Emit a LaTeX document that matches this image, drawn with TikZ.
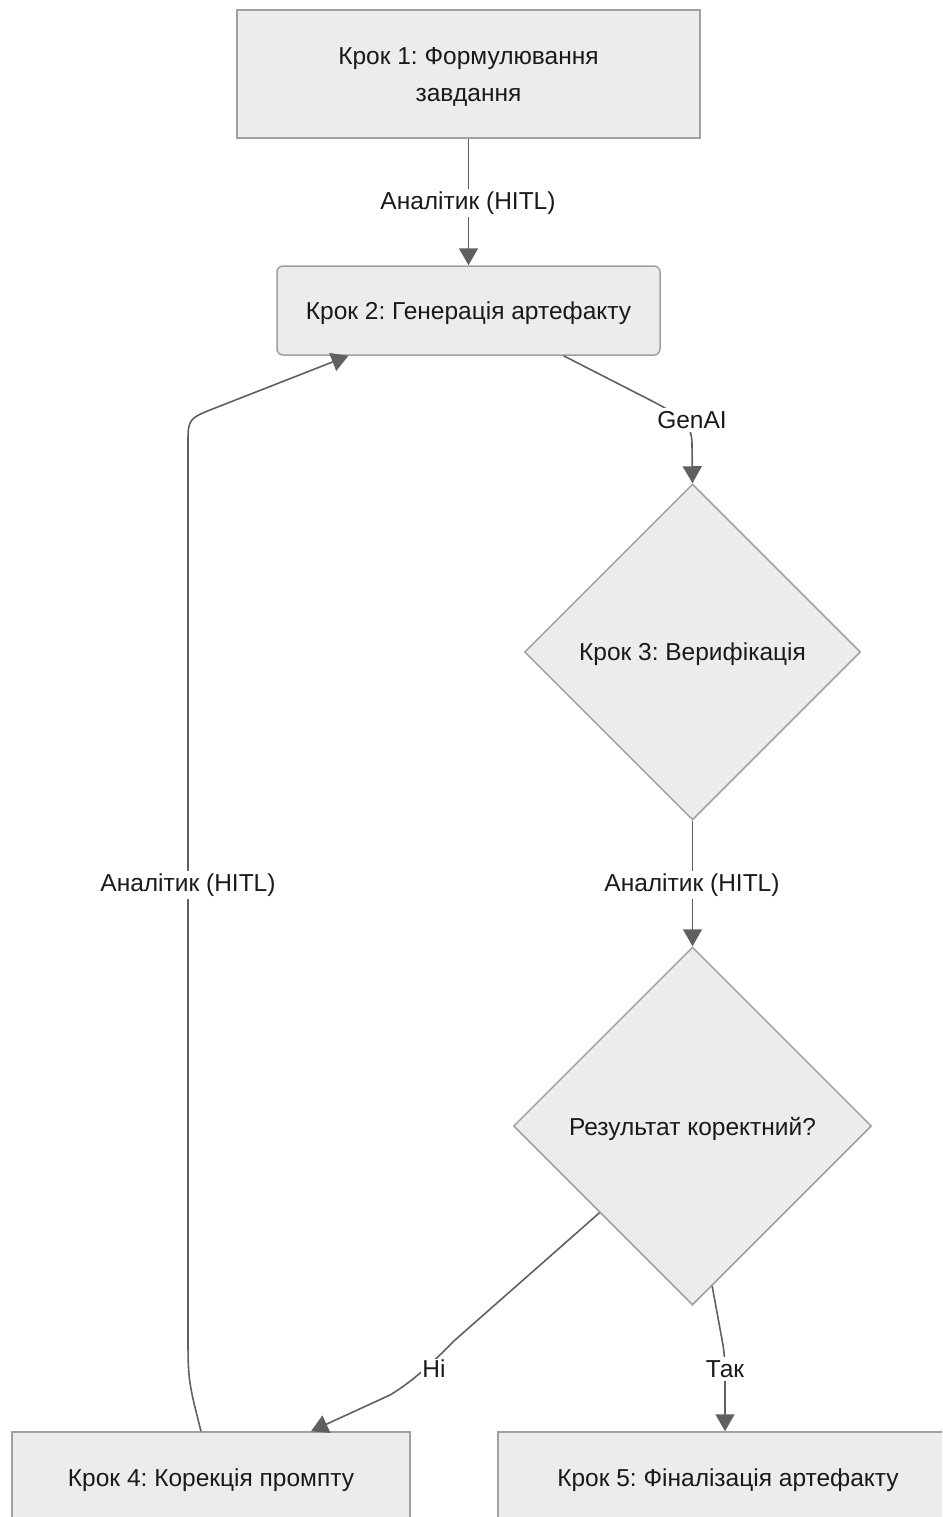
\documentclass[tikz,border=0pt]{standalone}
\usepackage{fontspec}
\setmainfont{Liberation Sans}
\usetikzlibrary{shapes.geometric,arrows.meta}
\definecolor{boxfill}{HTML}{ECECEC}
\definecolor{boxline}{HTML}{A0A0A0}
\definecolor{edgeline}{HTML}{777777}
\definecolor{tipfill}{HTML}{606060}
\definecolor{txt}{HTML}{1A1A1A}
\frenchspacing
% lower the printed text without changing the size the node sees
\newcommand{\lowertext}[2]{\raisebox{-#1}[\height][\depth]{#2}}
\begin{document}
\begin{tikzpicture}[x=1pt,y=-1pt,
  every node/.style={font=\fontsize{24.5}{39}\selectfont, text=txt},
  stepbox/.style={draw=boxline, fill=boxfill, line width=1.5pt, inner sep=0pt, align=center},
  decision/.style={diamond, draw=boxline, fill=boxfill, line width=1.5pt, inner sep=0pt, aspect=1},
  flow/.style={draw=edgeline, line width=1.6pt, -{Triangle[length=17pt,width=19pt,fill=tipfill]}, tipfill},
  elabel/.style={fill=white, inner sep=3pt}
]
\useasboundingbox (0,0) rectangle (942,1517);
\clip (0,0) rectangle (942,1517);

% process steps
\node[stepbox, minimum width=463, minimum height=128] (b1) at (468.5,74)
  {\lowertext{1.5pt}{\renewcommand{\arraystretch}{0.97}\begin{tabular}{@{}c@{}}Крок 1: Формулювання\\завдання\end{tabular}}};
\node[stepbox, rounded corners=6pt, minimum width=383, minimum height=89] (b2) at (468.5,310.5) {\lowertext{3pt}{Крок 2: Генерація артефакту}};
\node[decision, minimum width=336, minimum height=336] (d3) at (692.5,652) {\lowertext{2pt}{Крок 3: Верифікація}};
\node[decision, minimum width=358, minimum height=358] (d4) at (692.5,1126) {\lowertext{3pt}{Результат коректний?}};
\node[stepbox, minimum width=398, minimum height=90] (b4) at (211,1477) {\lowertext{3pt}{Крок 4: Корекція промпту}};
\node[stepbox, minimum width=460, minimum height=90] (b5) at (728,1477) {\lowertext{3pt}{Крок 5: Фіналізація артефакту}};

% connectors
\draw[flow] (b1) -- (b2);
\node[elabel] (l12) at (468,203) {Аналітик (HITL)};

\coordinate (g1) at (650,400);
\coordinate (g2) at (692,445);
\draw[flow] ([xshift=95]b2.south) -- (g1) .. controls (685,418) and (692,425) .. (g2) -- (d3.north);
\node[elabel] (lg) at (692,420) {GenAI};

\draw[flow] (d3.south) -- (d4.north);
\node[elabel] (l34) at (692,885) {Аналітик (HITL)};

\coordinate (n1) at (455,1340);
\coordinate (n2) at (390,1395);
\draw[flow] (d4.223) -- (n1) .. controls (435,1360) and (415,1380) .. (n2) -- ([xshift=100]b4.north);
\node[elabel, inner sep=1pt] (ln) at (434,1369) {Ні};

\coordinate (t1) at (723,1345);
\coordinate (t2) at (725,1390);
\draw[flow] (d4.-83) -- (t1) .. controls (725,1360) .. (t2) -- (b5.north -| t2);
\node[elabel] (lt) at (725,1369) {Так};

\coordinate (r1) at (188,1330);
\coordinate (r2) at (188,440);
\coordinate (r3) at (210,410);
\draw[flow] ([xshift=-10]b4.north) .. controls (188,1380) .. (r1) -- (r2)
  .. controls (188,420) and (190,418) .. (r3) -- ([xshift=-120]b2.south);
\node[elabel] (l42) at (188,885) {Аналітик (HITL)};
\end{tikzpicture}
\end{document}
